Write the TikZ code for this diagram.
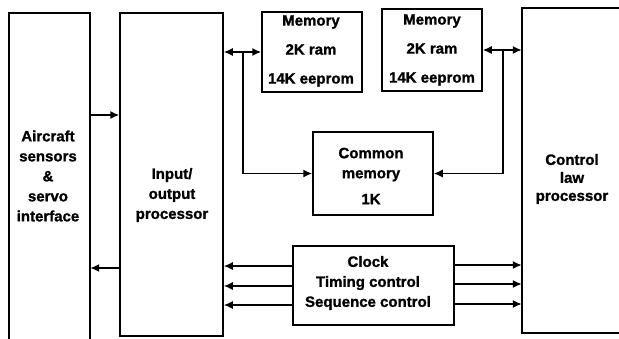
\documentclass[tikz,border=0pt]{standalone}
\usepackage{fontspec}
\setmainfont[BoldFeatures={FakeBold=1.2}]{Liberation Sans}
\usetikzlibrary{arrows.meta}
\begin{document}
\begin{tikzpicture}[x=1pt,y=-1pt,
    box/.style={draw,line width=1.5pt,inner sep=0pt},
    txt/.style={align=center,font=\fontsize{15}{20}\selectfont\bfseries,inner sep=0pt},
    arr/.style={line width=1.5pt,-{Latex[length=9pt,width=8pt]}},
    darr/.style={line width=1.5pt,{Latex[length=9pt,width=8pt]}-{Latex[length=9pt,width=8pt]}}]
  \useasboundingbox (0,0) rectangle (619,338);
  % outer boxes, left and right are cut by the page
  \node[inner sep=0pt,minimum width=81pt,minimum height=326pt] (air) at (49.5,176) {};
  \draw[line width=1.5pt] (air.south west) |- (air.north east) -- (air.south east);
  \node[inner sep=0pt,minimum width=104pt,minimum height=325pt] (ctl) at (574,170.5) {};
  \draw[line width=1.5pt] (ctl.north east) -| (ctl.south west) -- (ctl.south east);
  \node[box,minimum width=103pt,minimum height=323pt] (io) at (171.5,174.5) {};
  % inner boxes
  \node[box,minimum width=100pt,minimum height=80pt] (mem1) at (312,52) {};
  \node[box,minimum width=100pt,minimum height=82pt] (mem2) at (432,50) {};
  \node[box,minimum width=120pt,minimum height=83pt] (cm) at (373,173.5) {};
  \node[box,minimum width=161pt,minimum height=79pt] (clk) at (373.5,285.5) {};
  % labels
  \node[txt] (air-t) at (48,176) {Aircraft\\sensors\\\&\\servo\\interface};
  \node[txt] (io-t) at (172,195) {Input/\\output\\processor};
  \node[txt,font=\fontsize{15}{29}\selectfont\bfseries] (mem1-t) at (311,51) {Memory\\2K ram\\14K eeprom};
  \node[txt,font=\fontsize{15}{29}\selectfont\bfseries] (mem2-t) at (432,50) {Memory\\2K ram\\14K eeprom};
  \node[txt] (cm-t) at (371,176) {Common\\memory\\[6pt]1K};
  \node[txt] (clk-t) at (368,283) {Clock\\Timing control\\Sequence control};
  \node[txt,font=\fontsize{15}{18}\selectfont\bfseries] (ctl-t) at (572,179) {Control\\law\\processor};
  % junctions on the buses
  \coordinate (j1) at (243,52);
  \coordinate (j2) at (503,51);
  \begin{scope}[arr]
    \draw (air.east |- 0,115) to (io.west |- 0,115);
    \draw (io.west |- 0,268) to (air.east |- 0,268);
    \draw (j1) |- (cm.west);
    \draw (j2) |- (cm.east);
    \draw (clk.west |- 0,266) to (io.east |- 0,266);
    \draw (clk.west |- 0,286) to (io.east |- 0,286);
    \draw (clk.west |- 0,305) to (io.east |- 0,305);
    \draw (clk.east |- 0,265) to (ctl.west |- 0,265);
    \draw (clk.east |- 0,284) to (ctl.west |- 0,284);
    \draw (clk.east |- 0,304) to (ctl.west |- 0,304);
  \end{scope}
  \begin{scope}[darr]
    \draw (io.east |- mem1.west) to (mem1.west);
    \draw (mem2.east) to (ctl.west |- mem2.east);
  \end{scope}
\end{tikzpicture}
\end{document}
